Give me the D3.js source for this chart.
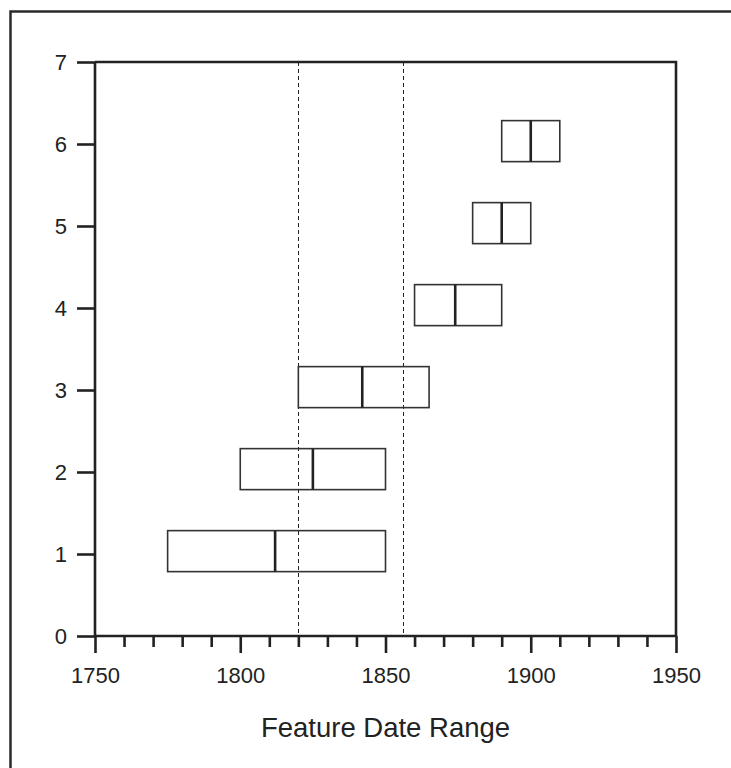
<!DOCTYPE html>
<html>
<head>
  <meta charset="utf-8">
  <script src="https://cdn.jsdelivr.net/npm/d3@7"></script>
  <style>
    body { margin: 0; background: #fff; }
    text { font-family: "Liberation Sans", Arial, sans-serif; fill: #222; }
  </style>
</head>
<body>
<script>
  // feature rows (y) and their date ranges
  var features = [1, 2, 3, 4, 5, 6];
  var startYears = [1775, 1800, 1820, 1860, 1880, 1890];
  var endYears = [1850, 1850, 1865, 1890, 1900, 1910];
  var medianYears = [1812, 1825, 1842, 1874, 1890, 1900];
  var refYears = [1820, 1856];
  var xMajor = [1750, 1800, 1850, 1900, 1950];
  var yTicks = [0, 1, 2, 3, 4, 5, 6, 7];

  var width = 731, height = 768;
  var pLeft = 95, pRight = 676, pTop = 62, pBottom = 636;

  var svg = d3.select('body').append('svg')
    .attr('width', width)
    .attr('height', height);

  // outer frame (runs off the right and bottom edges)
  svg.append('rect')
    .attr('x', 10.5).attr('y', 11.5)
    .attr('width', 760).attr('height', 800)
    .attr('fill', 'none')
    .attr('stroke', '#2a2a2a')
    .attr('stroke-width', 2.5);

  var x = d3.scaleLinear().domain([1750, 1950]).range([pLeft, pRight]);
  var y = d3.scaleLinear().domain([0, 7]).range([pBottom, pTop]);

  // dashed reference lines
  svg.selectAll('line.ref')
    .data(refYears)
    .enter().append('line')
      .attr('class', 'ref')
      .attr('x1', function(d) { return Math.round(x(d)) + 0.5; })
      .attr('x2', function(d) { return Math.round(x(d)) + 0.5; })
      .attr('y1', y(7)).attr('y2', y(0))
      .attr('stroke', '#222')
      .attr('stroke-width', 1)
      .attr('stroke-dasharray', '4,3');

  // boxes
  var rows = features.map(function(f, i) {
    return { y: f, s: startYears[i], e: endYears[i], m: medianYears[i] };
  });

  var g = svg.append('g');
  g.selectAll('rect.box')
    .data(rows)
    .enter().append('rect')
      .attr('class', 'box')
      .attr('x', function(d) { return x(d.s); })
      .attr('y', function(d) { return y(d.y + 0.285); })
      .attr('width', function(d) { return x(d.e) - x(d.s); })
      .attr('height', function(d) { return y(d.y - 0.215) - y(d.y + 0.285); })
      .attr('fill', 'none')
      .attr('stroke', '#333')
      .attr('stroke-width', 1.6);

  g.selectAll('line.med')
    .data(rows)
    .enter().append('line')
      .attr('class', 'med')
      .attr('x1', function(d) { return x(d.m); })
      .attr('x2', function(d) { return x(d.m); })
      .attr('y1', function(d) { return y(d.y + 0.285); })
      .attr('y2', function(d) { return y(d.y - 0.215); })
      .attr('stroke', '#222')
      .attr('stroke-width', 2.6);

  // axes
  var xAxis = d3.axisBottom(x)
    .tickValues(d3.range(1750, 1951, 10))
    .tickSize(11)
    .tickFormat('');
  var gx = svg.append('g')
    .attr('transform', 'translate(0,' + pBottom + ')')
    .call(xAxis);
  gx.selectAll('line')
    .attr('y2', function(d) { return xMajor.indexOf(d) >= 0 ? 17 : 11; });

  var gxl = svg.append('g')
    .attr('transform', 'translate(0,' + pBottom + ')')
    .call(d3.axisBottom(x).tickValues(xMajor).tickSize(0).tickPadding(47).tickFormat(d3.format('d')));
  gxl.select('.domain').remove();
  gxl.selectAll('text').style('font-size', '22px').attr('dy', 0);

  var yAxis = d3.axisLeft(y)
    .tickValues(yTicks)
    .tickSize(18)
    .tickPadding(10)
    .tickFormat(d3.format('d'));
  var gy = svg.append('g')
    .attr('transform', 'translate(' + pLeft + ',0)')
    .call(yAxis);
  gy.selectAll('text').style('font-size', '22px').attr('dy', '0.36em');

  [gx, gy].forEach(function(a) {
    a.select('.domain').attr('stroke', '#222').attr('stroke-width', 2.6)
      .attr('d', a === gx ? 'M' + pLeft + ',0H' + pRight : 'M0,' + pTop + 'V' + pBottom);
    a.selectAll('line').attr('stroke', '#222').attr('stroke-width', 2.6);
  });

  // top and right frame of the plot
  svg.append('path')
    .attr('d', 'M' + pLeft + ',' + pTop + 'H' + pRight + 'V' + pBottom)
    .attr('fill', 'none')
    .attr('stroke', '#222')
    .attr('stroke-width', 2.6);

  // axis title
  svg.append('text')
    .attr('x', (pLeft + pRight) / 2)
    .attr('y', 737)
    .attr('text-anchor', 'middle')
    .style('font-size', '27.5px')
    .text('Feature Date Range');
</script>
</body>
</html>
